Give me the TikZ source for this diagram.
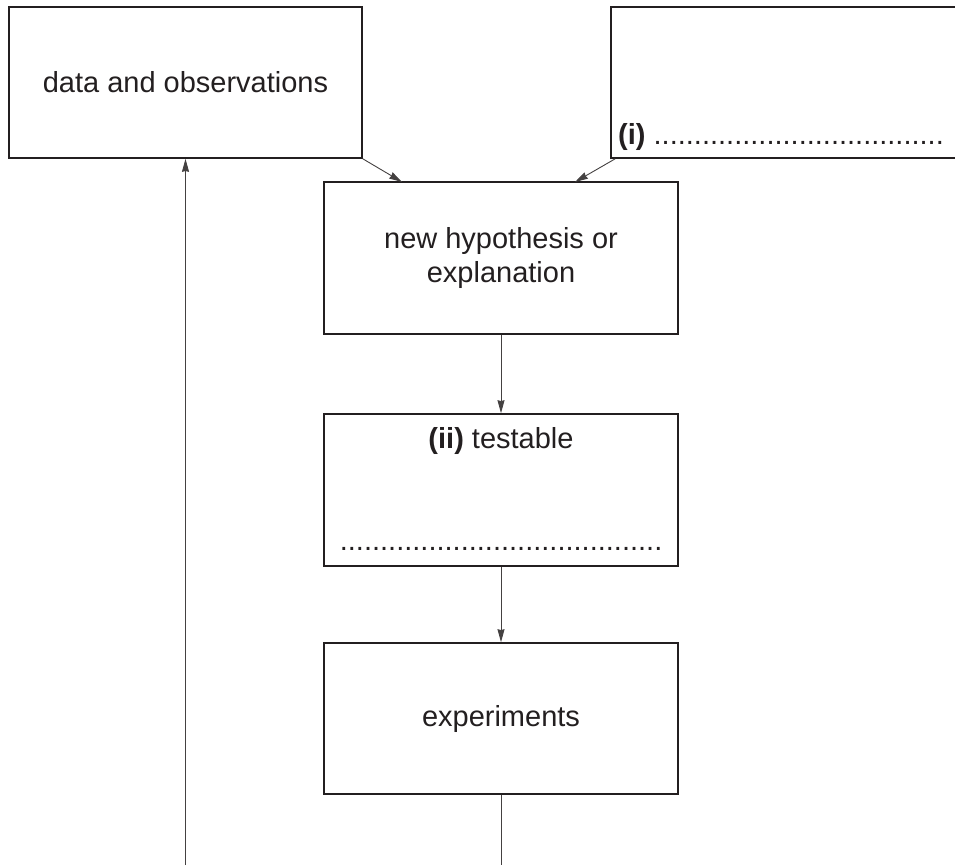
\documentclass[tikz,border=0pt]{standalone}
\usepackage{fontspec}
\setmainfont{Liberation Sans}
\usetikzlibrary{arrows.meta}
\definecolor{ink}{RGB}{35,31,32}

\begin{document}
\begin{tikzpicture}[x=1pt, y=1pt,
  box/.style={draw=ink, line width=1.6pt, inner sep=0pt, minimum width=354pt, minimum height=152pt,
    font=\fontsize{29}{34}\selectfont, text=ink, align=center},
  lbl/.style={inner sep=0pt, font=\fontsize{29}{34}\selectfont, text=ink},
  link/.style={draw=ink!85, line width=0.9pt},
  arr/.style={link, -{Stealth[length=13pt, width=7pt, inset=0.8pt]}}]
\clip (0,0) rectangle (955,-865);
% boxes
\node[box, minimum width=353pt, minimum height=151pt] (data) at (185.5,-82.5) {data and observations};
\node[box, minimum width=370pt, minimum height=151pt] (reason) at (796,-82.5) {};
\node[box] (hyp) at (501,-258) {new hypothesis or\\explanation};
\node[box] (test) at (501,-490) {};
\node[box, minimum height=151pt] (exp) at (501,-718.5) {experiments};
% text in the boxes
\node[lbl, anchor=base west] (ilbl) at (618,-144) {\textbf{(i)} ....................................};
\node[lbl, anchor=base] (iilbl) at (501,-448) {\textbf{(ii)} testable};
\node[lbl, anchor=base] (iidots) at (501,-550) {........................................};
% arrows
\coordinate (hypA) at (402,-182);
\coordinate (hypB) at (575,-182);
\coordinate (loopL) at (185.5,-865);
\coordinate (loopR) at (501,-865);
\draw[arr] (data.south east) -- (hypA);
\draw[arr] ([xshift=5pt]reason.south west) -- (hypB);
\draw[arr] (hyp.south) -- (test.north);
\draw[arr] (test.south) -- (exp.north);
\draw[link] (exp.south) -- (loopR);
\draw[arr] (loopL) -- (data.south);
\end{tikzpicture}
\end{document}
